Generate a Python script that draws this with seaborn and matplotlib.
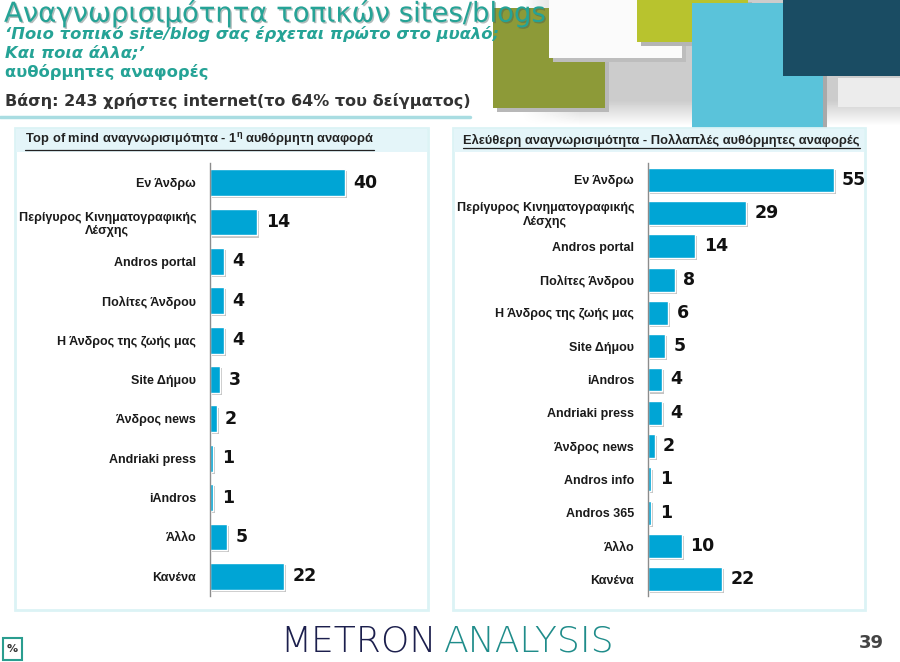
import matplotlib
matplotlib.use("Agg")
import matplotlib.pyplot as plt
import matplotlib.patheffects as pe
from matplotlib.patches import Rectangle
from matplotlib.lines import Line2D
import numpy as np
import pandas as pd
import seaborn as sns

# ---------------- data ----------------
top_cats = ["Εν Άνδρω", "Περίγυρος Κινηματογραφικής\nΛέσχης", "Andros portal",
            "Πολίτες Άνδρου", "Η Άνδρος της ζωής μας", "Site Δήμου", "Άνδρος news",
            "Andriaki press", "iAndros", "Άλλο", "Κανένα"]
top_vals = [40, 14, 4, 4, 4, 3, 2, 1, 1, 5, 22]

free_cats = ["Εν Άνδρω", "Περίγυρος Κινηματογραφικής\nΛέσχης", "Andros portal",
             "Πολίτες Άνδρου", "Η Άνδρος της ζωής μας", "Site Δήμου", "iAndros",
             "Andriaki press", "Άνδρος news", "Andros info", "Andros 365", "Άλλο", "Κανένα"]
free_vals = [55, 29, 14, 8, 6, 5, 4, 4, 2, 1, 1, 10, 22]

title = "Αναγνωρισιμότητα τοπικών sites/blogs"
sub1 = "‘Ποιο τοπικό site/blog σας έρχεται πρώτο στο μυαλό;"
sub2 = "Και ποια άλλα;’"
sub3 = "αυθόρμητες αναφορές"
sub4 = "Βάση: 243 χρήστες internet(το 64% του δείγματος)"
left_head = "Top of mind αναγνωρισιμότητα - 1$^{\\mathregular{η}}$ αυθόρμητη αναφορά"
right_head = "Ελεύθερη αναγνωρισιμότητα - Πολλαπλές αυθόρμητες αναφορές"

# ---------------- style ----------------
sns.set_theme(style="white")
plt.rcParams["font.family"] = ["DejaVu Sans"]
LAB_FONT = ["Liberation Sans", "DejaVu Sans"]

W, H = 900, 662
fig = plt.figure(figsize=(9, 6.62), dpi=100)
fig.patch.set_facecolor("white")


def fx(px):
    return px / W


def fy(py):
    return 1 - py / H


def frect(x0, y0, x1, y1, **kw):
    r = Rectangle((fx(x0), fy(y1)), fx(x1) - fx(x0), fy(y0) - fy(y1),
                  transform=fig.transFigure, **kw)
    fig.add_artist(r)
    return r


TEAL = "#25a396"
BAR = "#00a5d5"

# ---------------- header decoration ----------------
bg = fig.add_axes([fx(500), fy(126), fx(400), 126 / H], zorder=0)
xs = np.linspace(0, 1, 400)
ys = np.linspace(0, 1, 126)
X, Y = np.meshgrid(xs, ys)
fade_x = np.clip((X - 0.05) / 0.15, 0, 1)
fade_y = 1 - np.clip((Y - 0.8) / 0.2, 0, 1)
img = 1 - 0.2 * fade_x * fade_y
bg.imshow(img, cmap="gray", vmin=0, vmax=1, aspect="auto")
bg.axis("off")

# shadows + squares
frect(497, 12, 609, 112, facecolor="#b8b8b8", edgecolor="none", zorder=1)
frect(493, 8, 605, 108, facecolor="#8d9a38", edgecolor="none", zorder=1.1)
frect(553, 2, 686, 62, facecolor="#bdbdbd", edgecolor="none", zorder=1.2)
frect(549, 0, 682, 58, facecolor="#fbfbfb", edgecolor="none", zorder=1.3)
frect(641, 2, 752, 46, facecolor="#b5b5b5", edgecolor="none", zorder=1.4)
frect(637, 0, 748, 42, facecolor="#b8c32e", edgecolor="none", zorder=1.5)
frect(696, 6, 827, 133, facecolor="#a9a9a9", edgecolor="none", zorder=1.6)
frect(692, 3, 823, 130, facecolor="#5ac3da", edgecolor="none", zorder=1.7)
frect(783, 0, 900, 76, facecolor="#1a4c63", edgecolor="none", zorder=1.8)
frect(838, 78, 900, 107, facecolor="#ececec", edgecolor="none", zorder=1.9)

# ---------------- header text ----------------
fig.text(fx(4), fy(13), title, fontsize=19.8, color=TEAL, va="center", ha="left",
         zorder=5, path_effects=[pe.withSimplePatchShadow(offset=(1, -1),
                                                          shadow_rgbFace="#3d5a58", alpha=0.4)])
for txt, yy, st in [(sub1, 34, "italic"), (sub2, 53, "italic"), (sub3, 72, "normal")]:
    fig.text(fx(5), fy(yy), txt, fontsize=11.8, color=TEAL, fontweight="bold",
             fontstyle=st, va="center", ha="left", zorder=5)
fig.text(fx(5), fy(101), sub4, fontsize=11.5, color="#333333", fontweight="bold",
         va="center", ha="left", zorder=5)
fig.add_artist(Line2D([0, fx(470)], [fy(117), fy(117)], transform=fig.transFigure,
                      color="#a9dde2", lw=2.5, zorder=4))

# ---------------- panels ----------------
for x0, x1 in [(15, 428), (453, 865)]:
    frect(x0, 128, x1, 610, facecolor="white", edgecolor="#dcf3f5", lw=2, zorder=2)
    frect(x0 + 1, 129, x1 - 1, 152, facecolor="#e4f5f9", edgecolor="none", zorder=2.1)

hl = fig.text(fx(25), fy(140), left_head, fontsize=9.3, fontweight="bold",
              family=LAB_FONT, color="#222222", va="center", ha="left", zorder=5)
hr = fig.text(fx(463), fy(140), right_head, fontsize=9.3, fontweight="bold",
              family=LAB_FONT, color="#222222", va="center", ha="left", zorder=5)

# ---------------- charts ----------------
axes_spec = [
    (top_cats, top_vals, fx(210), 0.68),
    (free_cats, free_vals, fx(648), 0.72),
]
for cats, vals, left, bw in axes_spec:
    ax = fig.add_axes([left, fy(596), fx(189), 433 / H], zorder=6)
    ax.patch.set_alpha(0)
    df = pd.DataFrame({"cat": cats, "val": vals})
    sns.barplot(data=df, x="val", y="cat", ax=ax, color=BAR, saturation=1,
                width=bw, orient="h", order=cats)
    for p in ax.patches:
        p.set_path_effects([pe.withSimplePatchShadow(offset=(1.5, -1.5),
                                                     shadow_rgbFace="#8a8a8a", alpha=0.5)])
    ax.bar_label(ax.containers[0], padding=6, fontsize=12.5, fontweight="bold",
                 color="#111111")
    ax.set_xlim(0, 56)
    ax.set_xlabel("")
    ax.set_ylabel("")
    ax.set_xticks([])
    for s in ["top", "right", "bottom"]:
        ax.spines[s].set_visible(False)
    ax.spines["left"].set_color("#8c8c8c")
    ax.spines["left"].set_linewidth(1)
    ax.tick_params(axis="y", length=0, pad=10, labelcolor="#1a1a1a")
    for lab in ax.get_yticklabels():
        lab.set_fontweight("bold")
        lab.set_family(LAB_FONT)
        lab.set_fontsize(9)
        lab.set_multialignment("center")

# ---------------- footer ----------------
frect(3, 638, 22, 660, facecolor="white", edgecolor="#2a9d8f", lw=1.5, zorder=3)
fig.text(fx(12.5), fy(649), "%", fontsize=8, color="#333333", ha="center", va="center",
         fontweight="bold", zorder=5)
fig.text(fx(437), fy(642), "METRON", fontsize=26, color="#1c1f4d", ha="right",
         va="center", fontweight="light", zorder=5)
fig.text(fx(444), fy(642), "ANALYSIS", fontsize=26, color="#1f8c8a", ha="left",
         va="center", fontweight="light", zorder=5)
fig.text(fx(884), fy(643), "39", fontsize=13, color="#444444", ha="right",
         va="center", fontweight="bold", zorder=5)

# underline the panel headers
fig.canvas.draw()
r = fig.canvas.get_renderer()
for t in (hl, hr):
    bb = t.get_window_extent(r)
    y = (bb.y0 - 1) / fig.bbox.height
    fig.add_artist(Line2D([bb.x0 / fig.bbox.width, bb.x1 / fig.bbox.width], [y, y],
                          transform=fig.transFigure, color="#222222", lw=0.9, zorder=5))

fig.savefig("out.png", dpi=100, facecolor="white")
